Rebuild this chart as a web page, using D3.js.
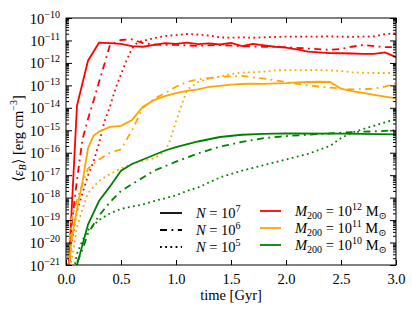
<!DOCTYPE html>
<html>
<head>
<meta charset="utf-8">
<script src="https://cdn.jsdelivr.net/npm/d3@7"></script>
<style>
  body { margin: 0; background: #fff; }
  svg, svg text { font-family: "Liberation Serif", "Times New Roman", Times, "DejaVu Serif", serif !important; fill: #000; }
</style>
</head>
<body>
<div id="chart"></div>
<script>
// time [Gyr] vs log10 <eps_B> [erg cm^-3]
var red7 = [[0,-23.5],[0.1,-13.9],[0.2,-11.9],[0.3,-11.1],[0.4,-11.12],[0.5,-11.15],[0.6,-11.25],[0.7,-11.28],[0.8,-11.2],[0.9,-11.12],[1.0,-11.15],[1.1,-11.1],[1.2,-11.16],[1.3,-11.13],[1.4,-11.18],[1.5,-11.11],[1.6,-11.25],[1.7,-11.15],[1.8,-11.22],[1.9,-11.28],[2.0,-11.32],[2.1,-11.4],[2.2,-11.5],[2.3,-11.53],[2.4,-11.56],[2.5,-11.57],[2.6,-11.58],[2.7,-11.6],[2.8,-11.6],[2.9,-11.53],[3.0,-11.74]];
var red6 = [[0,-24],[0.05,-19.3],[0.1,-17.2],[0.15,-15.4],[0.2,-14.5],[0.25,-13.7],[0.3,-12.85],[0.35,-12.05],[0.4,-11.2],[0.5,-10.98],[0.6,-10.95],[0.7,-11.12],[0.8,-11.18],[0.9,-11.2],[1.0,-11.2],[1.2,-11.24],[1.4,-11.2],[1.6,-11.26],[1.8,-11.28],[2.0,-11.3],[2.2,-11.36],[2.4,-11.42],[2.5,-11.38],[2.6,-11.28],[2.7,-11.2],[2.8,-11.25],[2.9,-11.3],[3.0,-11.3]];
var red5 = [[0,-22],[0.05,-20.0],[0.1,-18.6],[0.15,-17.8],[0.2,-17.0],[0.25,-16.4],[0.3,-15.6],[0.35,-14.6],[0.4,-13.95],[0.45,-13.15],[0.5,-12.5],[0.55,-11.9],[0.6,-11.35],[0.65,-11.08],[0.7,-11.02],[0.8,-10.9],[0.9,-10.8],[1.0,-10.76],[1.1,-10.71],[1.2,-10.74],[1.3,-10.78],[1.4,-10.86],[1.5,-10.88],[1.6,-10.86],[1.7,-10.88],[1.8,-10.86],[2.0,-10.83],[2.2,-10.83],[2.4,-10.82],[2.6,-10.84],[2.8,-10.82],[2.9,-10.72],[3.0,-10.68]];
var orange7 = [[0,-22.5],[0.05,-19.9],[0.1,-18.5],[0.15,-17.3],[0.2,-15.8],[0.25,-15.25],[0.3,-15.06],[0.4,-14.85],[0.5,-14.8],[0.6,-14.54],[0.7,-13.95],[0.8,-13.66],[0.9,-13.48],[1.0,-13.35],[1.1,-13.25],[1.2,-13.18],[1.3,-13.07],[1.4,-13.02],[1.5,-12.97],[1.6,-12.94],[1.7,-12.92],[1.8,-12.93],[1.9,-12.91],[2.0,-12.9],[2.1,-12.87],[2.2,-12.85],[2.3,-12.84],[2.4,-12.85],[2.5,-13.15],[2.6,-13.26],[2.7,-13.33],[2.8,-13.42],[2.9,-13.5],[3.0,-13.58]];
var orange6 = [[0,-21.5],[0.05,-19.0],[0.1,-18.1],[0.2,-16.7],[0.3,-16.3],[0.4,-16.0],[0.5,-15.85],[0.6,-15.0],[0.7,-14.0],[0.8,-13.6],[0.9,-13.35],[1.0,-13.06],[1.1,-12.85],[1.2,-12.73],[1.4,-12.62],[1.6,-12.58],[1.8,-12.7],[2.0,-12.85],[2.2,-13.0],[2.4,-13.1],[2.6,-13.18],[2.8,-13.15],[2.9,-13.06],[3.0,-12.9]];
var orange5 = [[0,-22.5],[0.05,-20.8],[0.1,-19.3],[0.15,-18.5],[0.2,-17.8],[0.3,-17.25],[0.4,-16.95],[0.5,-16.7],[0.6,-16.5],[0.7,-16.35],[0.8,-16.25],[0.9,-15.95],[0.95,-15.4],[1.0,-14.6],[1.05,-13.9],[1.1,-13.2],[1.2,-12.85],[1.3,-12.7],[1.4,-12.6],[1.5,-12.5],[1.6,-12.43],[1.7,-12.42],[1.8,-12.39],[1.9,-12.33],[2.0,-12.32],[2.2,-12.32],[2.4,-12.33],[2.5,-12.36],[2.6,-12.42],[2.8,-12.45],[3.0,-12.45]];
var green7 = [[0,-25],[0.05,-22.5],[0.1,-21.0],[0.2,-19.2],[0.3,-18.15],[0.4,-17.5],[0.5,-16.8],[0.6,-16.5],[0.7,-16.3],[0.8,-16.1],[0.9,-15.9],[1.0,-15.75],[1.2,-15.5],[1.4,-15.3],[1.6,-15.2],[1.8,-15.16],[2.0,-15.14],[2.5,-15.15],[3.0,-15.18]];
var green6 = [[0,-24],[0.05,-22],[0.1,-20.9],[0.15,-20.3],[0.2,-19.6],[0.3,-18.8],[0.4,-18.2],[0.5,-17.7],[0.6,-17.4],[0.7,-17.1],[0.8,-16.8],[0.9,-16.6],[1.0,-16.4],[1.2,-16.03],[1.4,-15.73],[1.6,-15.52],[1.8,-15.35],[2.0,-15.26],[2.2,-15.2],[2.4,-15.14],[2.6,-15.08],[2.8,-15.05],[3.0,-15.0]];
var green5 = [[0,-23],[0.05,-21.8],[0.1,-20.5],[0.15,-19.9],[0.2,-19.45],[0.3,-19.0],[0.4,-18.7],[0.5,-18.5],[0.6,-18.4],[0.7,-18.3],[0.8,-18.15],[0.9,-18.03],[1.0,-17.9],[1.1,-17.7],[1.2,-17.55],[1.4,-17.1],[1.6,-16.8],[1.8,-16.55],[2.0,-16.3],[2.2,-16.05],[2.4,-15.7],[2.5,-15.35],[2.6,-15.1],[2.7,-14.95],[2.8,-14.8],[2.9,-14.65],[3.0,-14.5]];

var massExps = ["12", "11", "10"];
var massColors = ["#ff0000", "#ffa500", "#008000"];
var nExps = ["7", "6", "5"];
var nDashes = [null, "7,4.5,1.8,4.5", "1.8,3.4"];
var xTicks = [0, 0.5, 1.0, 1.5, 2.0, 2.5, 3.0];
var yExps = [-21, -20, -19, -18, -17, -16, -15, -14, -13, -12, -11, -10];

var series = [
  { m: 0, n: 0, values: red7 }, { m: 0, n: 1, values: red6 }, { m: 0, n: 2, values: red5 },
  { m: 1, n: 0, values: orange7 }, { m: 1, n: 1, values: orange6 }, { m: 1, n: 2, values: orange5 },
  { m: 2, n: 0, values: green7 }, { m: 2, n: 1, values: green6 }, { m: 2, n: 2, values: green5 }
];

var FONT = "'Liberation Serif', 'Times New Roman', Times, 'DejaVu Serif', serif";

var margin = { top: 18, right: 16, bottom: 44, left: 66 },
  width = 412 - margin.left - margin.right,
  height = 309 - margin.top - margin.bottom;

var svg = d3.select("#chart").append("svg")
  .attr("width", 412).attr("height", 309)
  .style("font-family", FONT)
  .append("g")
  .attr("transform", "translate(" + margin.left + "," + margin.top + ")");

var x = d3.scaleLinear().domain([0, 3]).range([0, width]);
var y = d3.scaleLog().domain([1e-21, 1e-10]).range([height, 0]);

var majors = yExps.map(function (e) { return Math.pow(10, e); });
var minors = [];
yExps.slice(0, -1).forEach(function (e) {
  for (var k = 2; k <= 9; k++) minors.push(k * Math.pow(10, e));
});

svg.append("clipPath").attr("id", "clip")
  .append("rect").attr("width", width).attr("height", height);

// lines
var line = d3.line()
  .x(function (d) { return x(d[0]); })
  .y(function (d) { return y(Math.pow(10, d[1])); });

svg.append("g").attr("clip-path", "url(#clip)")
  .selectAll("path")
  .data(series)
  .join("path")
  .attr("d", function (d) { return line(d.values); })
  .style("fill", "none")
  .style("stroke", function (d) { return massColors[d.m]; })
  .style("stroke-width", 1.8)
  .style("stroke-dasharray", function (d) { return nDashes[d.n]; });

// axes, ticks pointing inward
function clean(g) {
  g.attr("font-family", null).attr("font-size", null);
  g.select(".domain").remove();
  g.selectAll("line").attr("stroke", "#000");
}

svg.append("g").attr("transform", "translate(0," + height + ")")
  .call(d3.axisBottom(x).tickValues(xTicks).tickSize(-5).tickPadding(9).tickFormat(d3.format(".1f")))
  .call(clean)
  .selectAll("text").style("font-size", "14.5px").style("font-family", FONT);

svg.append("g")
  .call(d3.axisTop(x).tickValues(xTicks).tickSize(-5).tickFormat(""))
  .call(clean);

svg.append("g")
  .call(d3.axisLeft(y).tickValues(minors).tickSize(-3).tickFormat(""))
  .call(clean);
svg.append("g").attr("transform", "translate(" + width + ",0)")
  .call(d3.axisRight(y).tickValues(minors).tickSize(-3).tickFormat(""))
  .call(clean);
svg.append("g").attr("transform", "translate(" + width + ",0)")
  .call(d3.axisRight(y).tickValues(majors).tickSize(-6).tickFormat(""))
  .call(clean);

var yl = svg.append("g")
  .call(d3.axisLeft(y).tickValues(majors).tickSize(-6).tickFormat(""))
  .call(clean);
yl.selectAll(".tick").each(function (d) {
  var t = d3.select(this).append("text")
    .attr("x", -6).attr("dy", "0.35em")
    .style("text-anchor", "end").style("font-size", "14.5px").style("font-family", FONT);
  t.append("tspan").text("10");
  t.append("tspan").attr("dy", -6).style("font-size", "10px")
    .text("\u2212" + Math.round(-Math.log10(d)));
});

svg.append("rect").attr("width", width).attr("height", height)
  .style("fill", "none").style("stroke", "#000").style("stroke-width", 1);

// axis titles
svg.append("text")
  .attr("x", width / 2).attr("y", height + 35)
  .style("text-anchor", "middle").style("font-size", "14.5px")
  .text("time [Gyr]");

var yt = svg.append("text")
  .attr("transform", "translate(-43," + (height / 2 - 3) + ") rotate(-90)")
  .style("text-anchor", "middle").style("font-size", "14.5px");
yt.append("tspan").text("\u27e8");
yt.append("tspan").style("font-style", "italic").text("\u03b5");
yt.append("tspan").attr("dy", 3).style("font-size", "10px").style("font-style", "italic").text("B");
yt.append("tspan").attr("dy", -3).text("\u27e9 [erg cm");
yt.append("tspan").attr("dy", -6).style("font-size", "10px").text("\u22123");
yt.append("tspan").attr("dy", 6).text("]");

// legends
var leg = svg.append("g");
nExps.forEach(function (e, i) {
  var ly = 195 + 17 * i;
  leg.append("line").attr("x1", 94).attr("x2", 116).attr("y1", ly).attr("y2", ly)
    .style("stroke", "#000").style("stroke-width", 1.8)
    .style("stroke-dasharray", nDashes[i]);
  var t = leg.append("text").attr("x", 130).attr("y", ly + 5).style("font-size", "14.5px");
  t.append("tspan").style("font-style", "italic").text("N");
  t.append("tspan").text(" = 10");
  t.append("tspan").attr("dy", -6).style("font-size", "10px").text(e);
});
massExps.forEach(function (e, i) {
  var ly = 193 + 17 * i;
  leg.append("line").attr("x1", 194).attr("x2", 215).attr("y1", ly).attr("y2", ly)
    .style("stroke", massColors[i]).style("stroke-width", 1.8);
  var t = leg.append("text").attr("x", 229).attr("y", ly + 5).style("font-size", "14.5px");
  t.append("tspan").style("font-style", "italic").text("M");
  t.append("tspan").attr("dy", 3).style("font-size", "10px").text("200");
  t.append("tspan").attr("dy", -3).text(" = 10");
  t.append("tspan").attr("dy", -6).style("font-size", "10px").text(e);
  t.append("tspan").attr("dy", 6).text(" M");
  t.append("tspan").attr("dy", 3).style("font-size", "10px").text("\u2299");
});
</script>
</body>
</html>
